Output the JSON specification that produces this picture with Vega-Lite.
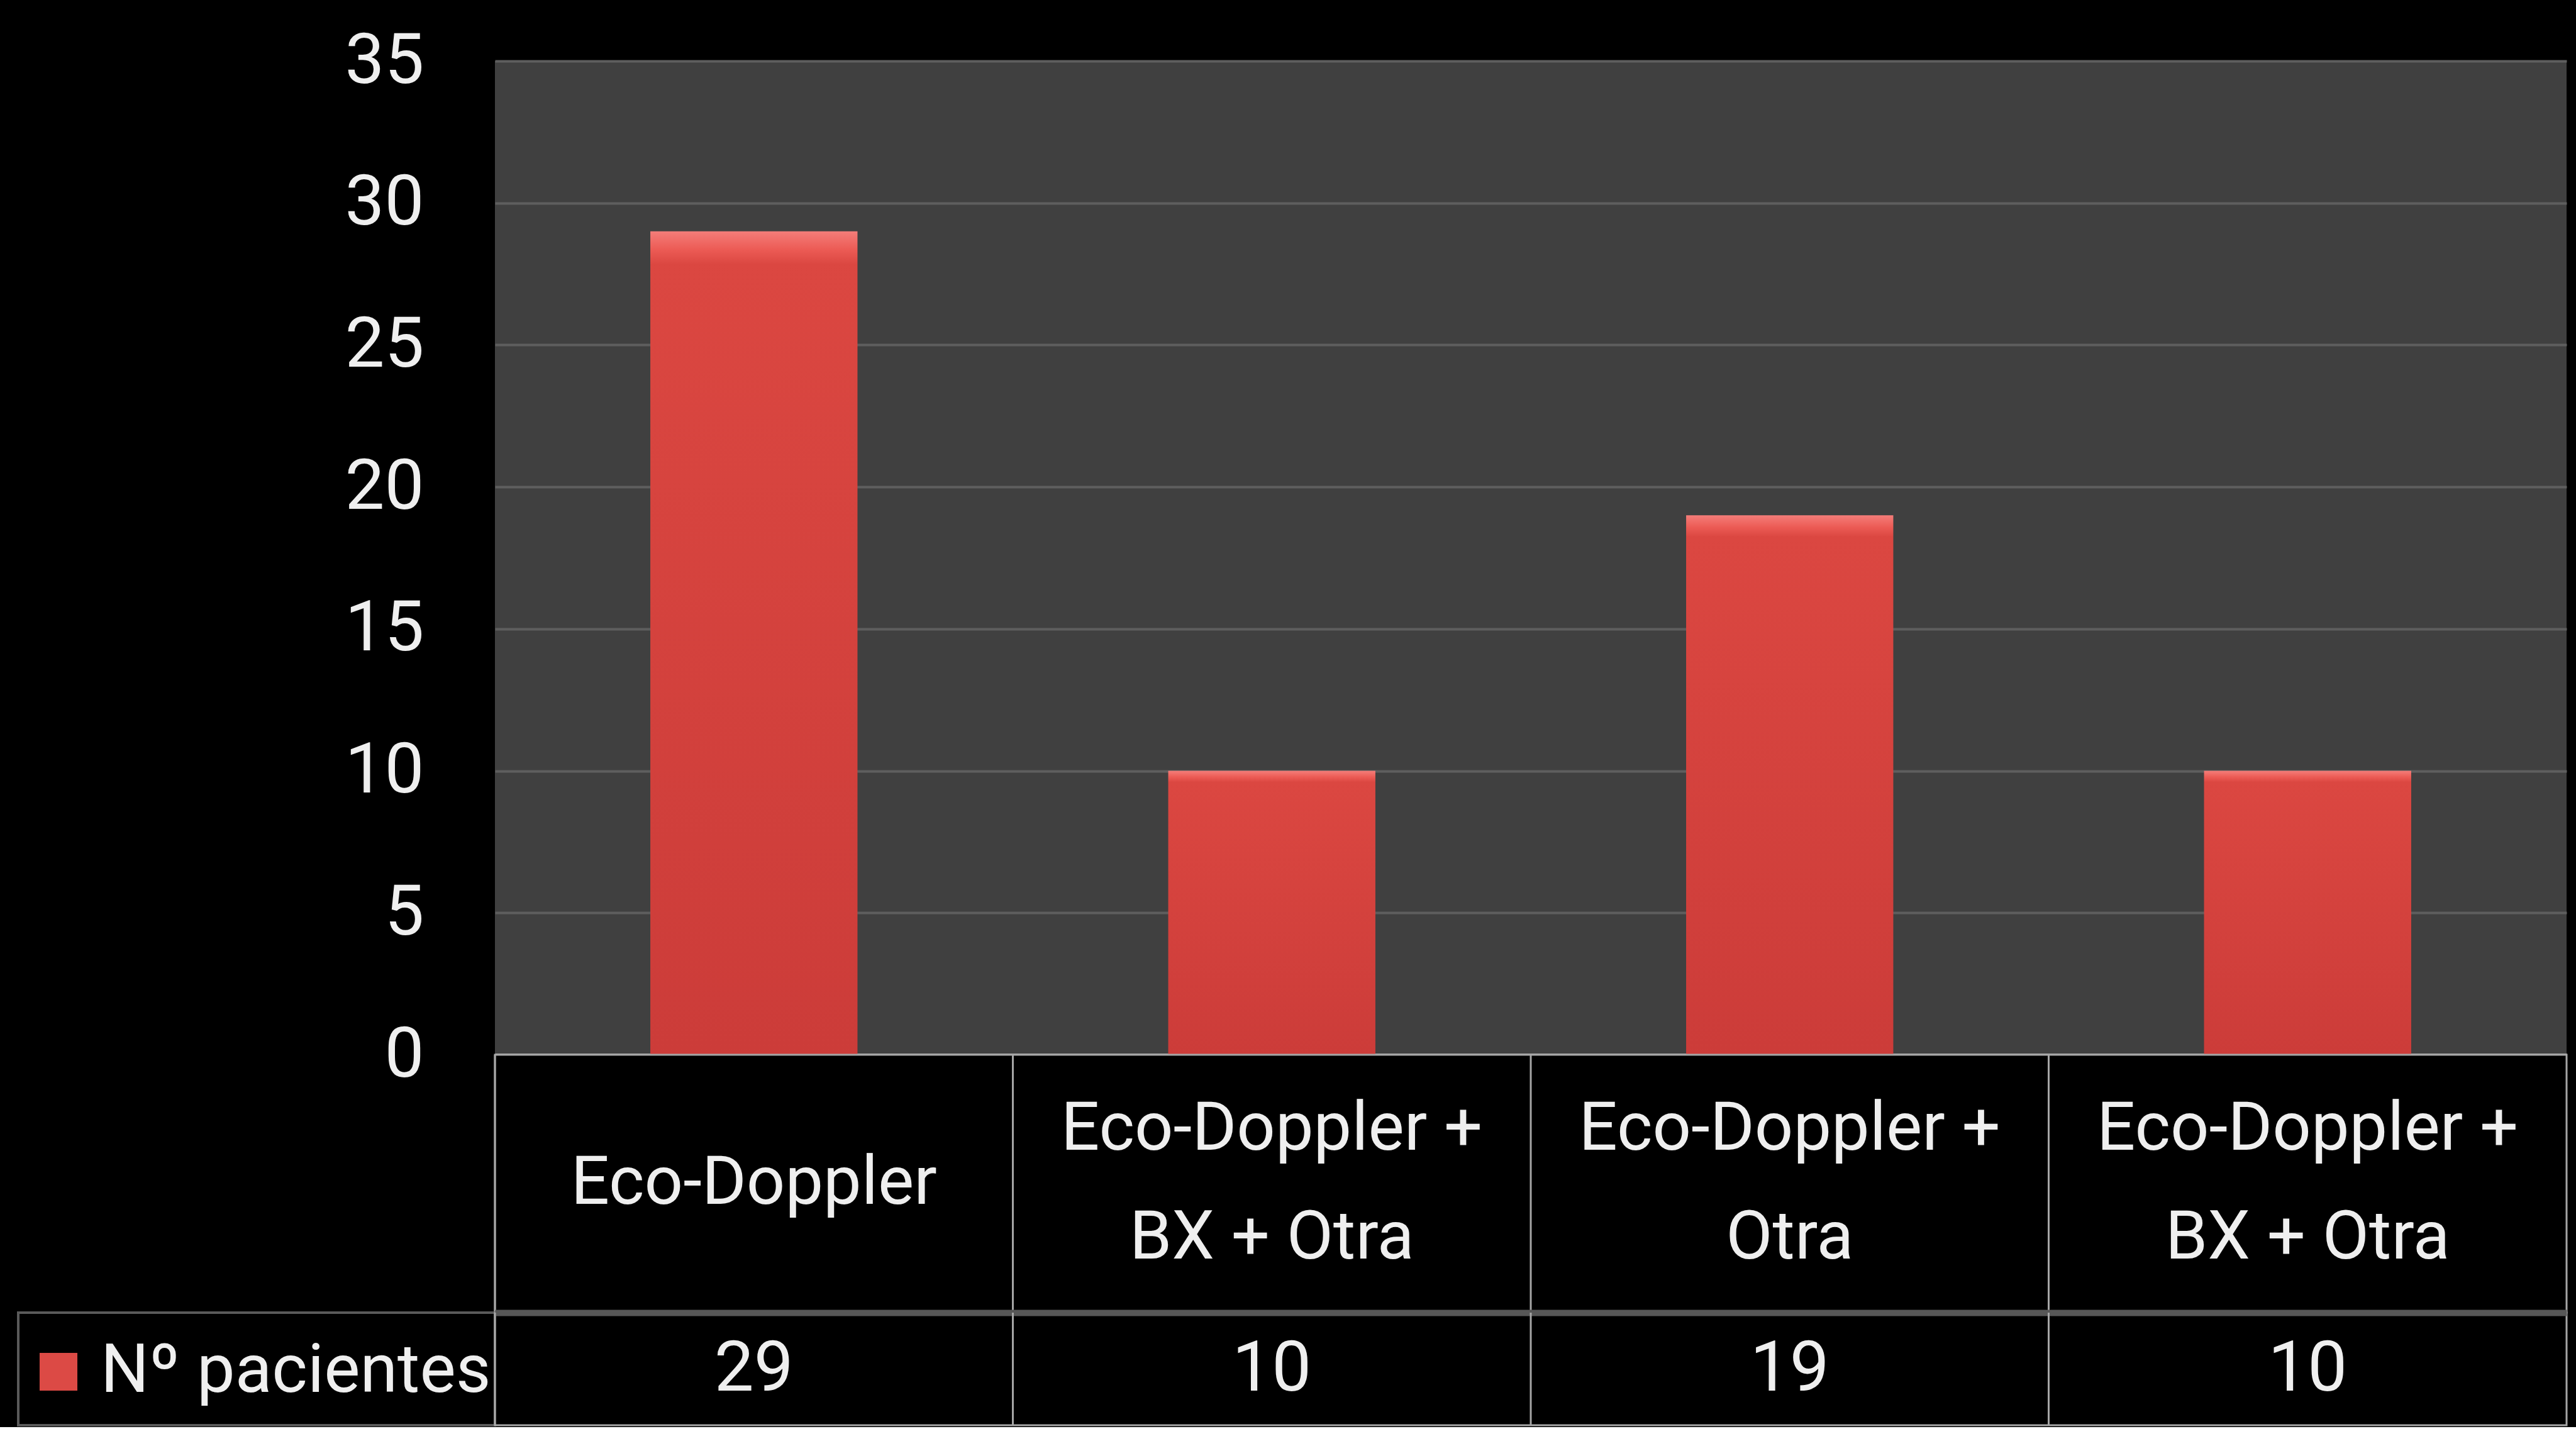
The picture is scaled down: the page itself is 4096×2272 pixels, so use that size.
{
  "$schema": "https://vega.github.io/schema/vega-lite/v6.json",
  "background": "#000000",
  "padding": {"left": 27, "top": 41, "right": 17, "bottom": 0},
  "datasets": {
    "pruebas": [
      {"columna": 1, "prueba": "Eco-Doppler", "pacientes": 29},
      {"columna": 2, "prueba": "Eco-Doppler +\nBX + Otra", "pacientes": 10},
      {"columna": 3, "prueba": "Eco-Doppler +\nOtra", "pacientes": 19},
      {"columna": 4, "prueba": "Eco-Doppler +\nBX + Otra", "pacientes": 10}
    ],
    "serie": [{"serie": "Nº pacientes"}]
  },
  "columns": 2,
  "spacing": 0,
  "bounds": "flush",
  "resolve": {"scale": {"color": "independent"}, "legend": {"color": "independent"}},
  "config": {
    "font": "Roboto, sans-serif",
    "view": {"stroke": null},
    "text": {"font": "Roboto, sans-serif"},
    "axis": {"labelFont": "Roboto, sans-serif"},
    "legend": {"labelFont": "Roboto, sans-serif"}
  },
  "concat": [
    {
      "width": 758, "height": 1580,
      "data": {"name": "serie"},
      "mark": {"type": "text", "text": ""},
      "encoding": {}
    },
    {
      "width": 3294, "height": 1580,
      "data": {"name": "pruebas"},
      "view": {"fill": "#404040", "stroke": null},
      "mark": {
        "type": "bar",
        "color": {
          "gradient": "linear", "x1": 0, "y1": 0, "x2": 0, "y2": 1,
          "stops": [
            {"offset": 0, "color": "#f47d79"},
            {"offset": 0.022, "color": "#ec5b55"},
            {"offset": 0.04, "color": "#db4741"},
            {"offset": 1, "color": "#cc3c39"}
          ]
        }
      },
      "encoding": {
        "x": {
          "field": "columna", "type": "ordinal",
          "scale": {"paddingInner": 0.6, "paddingOuter": 0.3},
          "axis": {"title": null, "labels": false, "ticks": false, "grid": false, "domain": true, "domainColor": "#a6a6a6", "domainWidth": 5}
        },
        "y": {
          "field": "pacientes", "type": "quantitative",
          "scale": {"domain": [0, 35], "nice": false},
          "axis": {
            "title": null, "values": [0, 5, 10, 15, 20, 25, 30, 35],
            "grid": true, "gridColor": "#5e5e5e", "gridWidth": 4,
            "domain": false, "ticks": false,
            "labelFontSize": 112, "labelColor": "#efefef", "labelPadding": 113
          }
        }
      }
    },
    {
      "width": 758, "height": 410,
      "data": {"name": "serie"},
      "mark": {"type": "text", "text": ""},
      "encoding": {}
    },
    {
      "width": 3294, "height": 410,
      "data": {"name": "pruebas"},
      "view": {"fill": "#000000", "stroke": "#a6a6a6", "strokeWidth": 3},
      "layer": [
        {
          "mark": {"type": "rule", "color": "#a6a6a6", "strokeWidth": 3},
          "encoding": {
            "x": {"field": "columna", "type": "ordinal", "bandPosition": 0, "scale": {"type": "band", "paddingInner": 0, "paddingOuter": 0}, "axis": null}
          }
        },
        {
          "transform": [{"filter": "indexof(datum.prueba, '\\n') < 0"}],
          "mark": {"type": "text", "fontSize": 108, "color": "#efefef", "baseline": "middle", "align": "center"},
          "encoding": {
            "x": {"field": "columna", "type": "ordinal", "bandPosition": 0.5},
            "text": {"field": "prueba", "type": "nominal"}
          }
        },
        {
          "transform": [{"filter": "indexof(datum.prueba, '\\n') >= 0"}],
          "mark": {"type": "text", "lineBreak": "\n", "lineHeight": 173, "fontSize": 108, "color": "#efefef", "baseline": "middle", "align": "center", "dy": -86},
          "encoding": {
            "x": {"field": "columna", "type": "ordinal", "bandPosition": 0.5},
            "text": {"field": "prueba", "type": "nominal"}
          }
        }
      ]
    },
    {
      "width": 758, "height": 179,
      "data": {"name": "serie"},
      "view": {"fill": "#000000", "stroke": "#5a5a5a", "strokeWidth": 4},
      "mark": {"type": "text", "text": ""},
      "encoding": {
        "color": {
          "field": "serie", "type": "nominal",
          "scale": {"range": ["#dc4a45"]},
          "legend": {
            "title": null, "orient": "top-left", "offset": 40, "padding": 0,
            "symbolType": "square", "symbolSize": 3600, "symbolStrokeWidth": 0, "symbolOffset": -30,
            "labelFontSize": 108, "labelColor": "#efefef", "labelLimit": 1000, "labelOffset": 13
          }
        }
      }
    },
    {
      "width": 3294, "height": 179,
      "data": {"name": "pruebas"},
      "view": {"fill": "#000000", "stroke": "#a6a6a6", "strokeWidth": 3},
      "layer": [
        {
          "mark": {"type": "rule", "color": "#a6a6a6", "strokeWidth": 3},
          "encoding": {
            "x": {
              "field": "columna", "type": "ordinal", "bandPosition": 0,
              "scale": {"type": "band", "paddingInner": 0, "paddingOuter": 0},
              "axis": {"orient": "top", "title": null, "labels": false, "ticks": false, "grid": false, "domain": true, "domainColor": "#575757", "domainWidth": 10}
            }
          }
        },
        {
          "mark": {"type": "text", "fontSize": 112, "color": "#efefef", "baseline": "middle", "align": "center"},
          "encoding": {
            "x": {"field": "columna", "type": "ordinal", "bandPosition": 0.5},
            "text": {"field": "pacientes", "type": "quantitative"}
          }
        }
      ]
    }
  ]
}
